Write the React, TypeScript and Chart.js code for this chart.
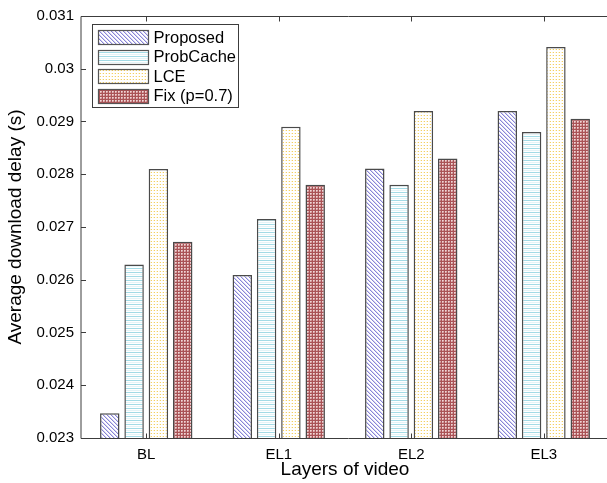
import React, { useEffect, useRef } from 'react';
import { Chart, registerables } from 'chart.js';

Chart.register(...registerables);

const categories = ['BL', 'EL1', 'EL2', 'EL3'];
const seriesNames = ['Proposed', 'ProbCache', 'LCE', 'Fix (p=0.7)'];
const proposed = [0.02347, 0.02609, 0.02811, 0.0292];
const probCache = [0.02629, 0.02715, 0.0278, 0.0288];
const lce = [0.0281, 0.0289, 0.0292, 0.03041];
const fix = [0.02672, 0.0278, 0.0283, 0.02905];
const yMin = 0.023;
const yMax = 0.031;
const yStep = 0.001;
const xTitle = 'Layers of video';
const yTitle = 'Average download delay (s)';

const FONT = '"Liberation Sans", Arial, Helvetica, sans-serif';

function makePattern(w: number, h: number, draw: (c: CanvasRenderingContext2D) => void) {
  const cv = document.createElement('canvas');
  cv.width = w;
  cv.height = h;
  const c = cv.getContext('2d')!;
  c.fillStyle = '#ffffff';
  c.fillRect(0, 0, w, h);
  draw(c);
  return c.createPattern(cv, 'repeat')!;
}

function px(c: CanvasRenderingContext2D, x: number, y: number, col: string) {
  c.fillStyle = col;
  c.fillRect(x, y, 1, 1);
}

function buildPatterns() {
  const hatch = makePattern(4, 4, (c) => {
    for (let i = 0; i < 4; i++) {
      px(c, i, i, '#8985d6');
      px(c, (i + 1) % 4, i, '#d5d3f2');
    }
  });
  const horiz = makePattern(4, 4, (c) => {
    c.fillStyle = '#a3dbe6';
    c.fillRect(0, 0, 4, 1);
    c.fillStyle = '#e4f4f7';
    c.fillRect(0, 2, 4, 1);
  });
  const dots = makePattern(3, 3, (c) => {
    px(c, 1, 1, '#f3cf62');
    px(c, 0, 1, '#fcf2d2');
  });
  const check = makePattern(3, 3, (c) => {
    c.fillStyle = '#aa5356';
    c.fillRect(0, 0, 3, 1);
    c.fillRect(0, 0, 1, 3);
    px(c, 2, 2, '#c98a8c');
    px(c, 1, 1, '#efd6d6');
    px(c, 2, 1, '#dfb3b4');
    px(c, 1, 2, '#dfb3b4');
  });
  return [hatch, horiz, dots, check];
}

export default function App() {
  const ref = useRef<HTMLCanvasElement | null>(null);

  useEffect(() => {
    const canvas = ref.current;
    if (!canvas) return;
    const patterns = buildPatterns();
    const seriesValues = [proposed, probCache, lce, fix];

    const framePlugin = {
      id: 'framePlugin',
      afterDraw(chart: any) {
        const { ctx, chartArea } = chart;
        const { left, right, top, bottom } = chartArea;
        const xs = chart.scales.x;
        const ys = chart.scales.y;
        ctx.save();
        ctx.strokeStyle = '#3c3c3c';
        ctx.lineWidth = 1;
        const L = left + 1;
        const R = right + 10;
        const T = top + 0.5;
        const B = bottom + 0.5;
        ctx.beginPath();
        ctx.moveTo(R, T);
        ctx.lineTo(L, T);
        ctx.lineTo(L, B);
        ctx.lineTo(R, B);
        ctx.stroke();
        // y ticks inside
        ys.ticks.forEach((_t: any, i: number) => {
          const y = Math.round(ys.getPixelForTick(i)) + 0.5;
          ctx.beginPath();
          ctx.moveTo(L, y);
          ctx.lineTo(L + 5, y);
          ctx.stroke();
        });
        // x ticks inside
        categories.forEach((_c, i) => {
          const x = Math.round(xs.getPixelForValue(i)) + 0.5;
          ctx.beginPath();
          ctx.moveTo(x, B);
          ctx.lineTo(x, B - 5);
          ctx.moveTo(x, T);
          ctx.lineTo(x, T + 5);
          ctx.stroke();
        });

        // legend
        const lx = left + 12.5;
        const ly = top + 8.5;
        const lw = 146;
        const lh = 83;
        ctx.fillStyle = '#ffffff';
        ctx.fillRect(lx, ly, lw, lh);
        ctx.strokeStyle = '#3c3c3c';
        ctx.strokeRect(lx, ly, lw, lh);
        ctx.font = `16.5px ${FONT}`;
        ctx.textBaseline = 'middle';
        ctx.textAlign = 'left';
        seriesNames.forEach((name, i) => {
          const cy = ly + 12.5 + i * 19.5;
          const pxl = Math.round(lx + 5);
          const pyt = Math.round(cy - 7);
          ctx.fillStyle = patterns[i];
          ctx.fillRect(pxl, pyt, 50, 14);
          ctx.strokeStyle = '#555555';
          ctx.lineWidth = 1.2;
          ctx.strokeRect(pxl + 0.5, pyt + 0.5, 50, 14);
          ctx.fillStyle = '#000000';
          ctx.fillText(name, lx + 61, cy + 1);
        });
        ctx.restore();
      },
    };

    const chart = new Chart(canvas, {
      type: 'bar',
      data: {
        labels: categories,
        datasets: seriesNames.map((name, i) => ({
          label: name,
          data: seriesValues[i],
          backgroundColor: patterns[i],
          borderColor: '#4a4a4a',
          borderWidth: 1.5,
          borderSkipped: false,
          categoryPercentage: 0.734,
          barPercentage: 0.8,
        })),
      },
      options: {
        animation: false,
        responsive: false,
        devicePixelRatio: 1,
        layout: { padding: { left: 0, top: 16, right: 5, bottom: 0 } },
        plugins: {
          legend: { display: false },
          tooltip: { enabled: false },
        },
        scales: {
          x: {
            type: 'category',
            offset: true,
            grid: { display: false, drawTicks: false },
            border: { display: false },
            ticks: {
              color: '#000000',
              font: { family: FONT, size: 15 },
              padding: 8,
              maxRotation: 0,
              autoSkip: false,
            },
            title: {
              display: true,
              text: xTitle,
              color: '#000000',
              font: { family: FONT, size: 19 },
              padding: { top: 0, bottom: 2 },
            },
            afterFit: (s: any) => {
              s.height = 45;
            },
          },
          y: {
            type: 'linear',
            min: yMin,
            max: yMax,
            grid: { display: false, drawTicks: false },
            border: { display: false },
            ticks: {
              stepSize: yStep,
              color: '#000000',
              font: { family: FONT, size: 15 },
              padding: 6,
              callback: (v: any) => String(Number(Number(v).toFixed(3))),
            },
            title: {
              display: true,
              text: yTitle,
              color: '#000000',
              font: { family: FONT, size: 19 },
              padding: { top: 4, bottom: 0 },
            },
            afterFit: (s: any) => {
              s.width = 80;
            },
          },
        },
      },
      plugins: [framePlugin],
    });
    return () => chart.destroy();
  }, []);

  return (
    <div
      style={{
        position: 'fixed',
        left: 0,
        top: 0,
        width: 607,
        height: 483,
        overflow: 'hidden',
        background: '#ffffff',
      }}
    >
      <canvas ref={ref} width={615} height={483} style={{ display: 'block' }} />
    </div>
  );
}
